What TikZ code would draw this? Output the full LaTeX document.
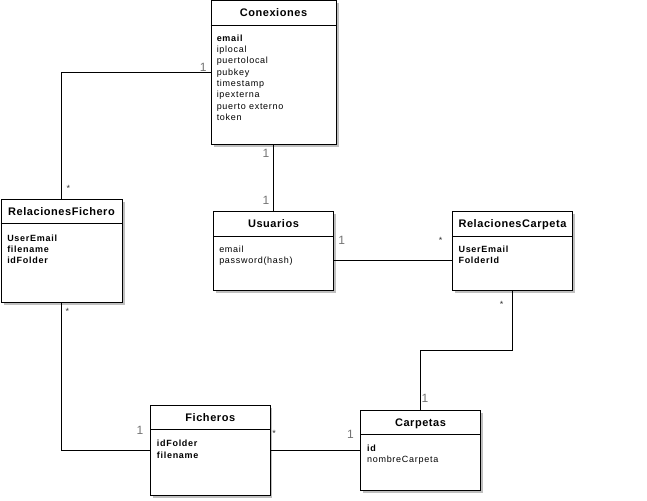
\documentclass[tikz,border=0pt]{standalone}
\usepackage{fontspec}
\setmainfont{Liberation Sans}
\newfontfamily\attrfont[LetterSpace=8]{Liberation Sans}
\newfontfamily\headfont[LetterSpace=5]{Liberation Sans}
\usepackage{tikz}
\usetikzlibrary{shadows}

\tikzset{
  umlbox/.style={draw, fill=white, line width=0.9pt, inner sep=0pt,
    drop shadow={shadow xshift=2.5pt, shadow yshift=-2.5pt, opacity=0.25, fill=black}},
  umlhead/.style={anchor=base, inner sep=0pt, font=\headfont\bfseries\fontsize{11}{13}\selectfont},
  umlattr/.style={anchor=north west, inner sep=0pt, align=left, font=\attrfont\fontsize{9}{11.3}\selectfont},
  mult/.style={anchor=base, inner sep=0pt, text=black!55, font=\fontsize{12}{14}\selectfont},
  many/.style={anchor=base, inner sep=0pt, text=black!80, font=\fontsize{9}{11}\selectfont},
  assoc/.style={line width=0.9pt}
}

\begin{document}
\begin{tikzpicture}[x=1pt,y=-1pt]
   \useasboundingbox (0,0) rectangle (647,500);

   % Conexiones
   \node[umlbox, minimum width=125pt, minimum height=143.8pt] (conexiones) at (273.5,72.4) {};
   \draw[assoc] ([yshift=-25pt]conexiones.north west) -- ([yshift=-25pt]conexiones.north east);
   \node[umlhead] (conexionesT) at ([yshift=-16.7pt]conexiones.north) {Conexiones};
   \node[umlattr] (conexionesA) at ([xshift=6pt,yshift=-33pt]conexiones.north west)
     {\rule{0pt}{8pt}\textbf{email}\\iplocal\\puertolocal\\pubkey\\timestamp\\ipexterna\\puerto externo\\token};

   % RelacionesFichero
   \node[umlbox, minimum width=121pt, minimum height=102.7pt] (relFichero) at (61.5,250.7) {};
   \draw[assoc] ([yshift=-25pt]relFichero.north west) -- ([yshift=-25pt]relFichero.north east);
   \node[umlhead] (relFicheroT) at ([yshift=-16.7pt]relFichero.north) {RelacionesFichero};
   \node[umlattr] (relFicheroA) at ([xshift=6.5pt,yshift=-34pt]relFichero.north west)
     {\rule{0pt}{8pt}\textbf{UserEmail}\\\textbf{filename}\\\textbf{idFolder}};

   % Usuarios
   \node[umlbox, minimum width=120pt, minimum height=79pt] (usuarios) at (273.5,251.2) {};
   \draw[assoc] ([yshift=-25pt]usuarios.north west) -- ([yshift=-25pt]usuarios.north east);
   \node[umlhead] (usuariosT) at ([yshift=-16.7pt]usuarios.north) {Usuarios};
   \node[umlattr] (usuariosA) at ([xshift=6pt,yshift=-33pt]usuarios.north west)
     {\rule{0pt}{8pt}email\\password(hash)};

   % RelacionesCarpeta
   \node[umlbox, minimum width=120.4pt, minimum height=79pt] (relCarpeta) at (512.5,251.2) {};
   \draw[assoc] ([yshift=-25pt]relCarpeta.north west) -- ([yshift=-25pt]relCarpeta.north east);
   \node[umlhead] (relCarpetaT) at ([yshift=-16.7pt]relCarpeta.north) {RelacionesCarpeta};
   \node[umlattr] (relCarpetaA) at ([xshift=6.5pt,yshift=-33pt]relCarpeta.north west)
     {\rule{0pt}{8pt}\textbf{UserEmail}\\\textbf{FolderId}};

   % Ficheros
   \node[umlbox, minimum width=119.3pt, minimum height=90pt] (ficheros) at (210.3,450.5) {};
   \draw[assoc] ([yshift=-24.5pt]ficheros.north west) -- ([yshift=-24.5pt]ficheros.north east);
   \node[umlhead] (ficherosT) at ([yshift=-16.5pt]ficheros.north) {Ficheros};
   \node[umlattr] (ficherosA) at ([xshift=6.5pt,yshift=-33.5pt]ficheros.north west)
     {\rule{0pt}{8pt}\textbf{idFolder}\\\textbf{filename}};

   % Carpetas
   \node[umlbox, minimum width=119.3pt, minimum height=79.3pt] (carpetas) at (420.5,450.5) {};
   \draw[assoc] ([yshift=-24.5pt]carpetas.north west) -- ([yshift=-24.5pt]carpetas.north east);
   \node[umlhead] (carpetasT) at ([yshift=-16.5pt]carpetas.north) {Carpetas};
   \node[umlattr] (carpetasA) at ([xshift=6.5pt,yshift=-33pt]carpetas.north west)
     {\rule{0pt}{8pt}\textbf{id}\\nombreCarpeta};

   % associations
   \draw[assoc] (conexiones.west) -| (relFichero.north);
   \draw[assoc] (conexiones.south) -- (usuarios.north);
   \draw[assoc] ([yshift=-9.3pt]usuarios.east) -- ([yshift=-9.3pt]relCarpeta.west);
   \coordinate (carpetaBend) at (512.5,350.5);
   \draw[assoc] (relCarpeta.south) -- (carpetaBend) -| (carpetas.north);
   \draw[assoc] (relFichero.south) |- (ficheros.west);
   \draw[assoc] (ficheros.east) -- (carpetas.west);

   % multiplicities
   \node[mult] (mConW) at (203.3,71.8) {1};
   \node[many] (mRfN) at (68.3,191.2) {*};
   \node[mult] (mConS) at (266,157.6) {1};
   \node[mult] (mUsuN) at (266,204.3) {1};
   \node[mult] (mUsuE) at (341.7,244.3) {1};
   \node[many] (mRcW) at (440.7,243.2) {*};
   \node[many] (mRcS) at (501.7,307) {*};
   \node[mult] (mCarN) at (425,402.6) {1};
   \node[mult] (mCarW) at (350.5,438.3) {1};
   \node[many] (mFicE) at (274,436) {*};
   \node[mult] (mFicW) at (140,434.3) {1};
   \node[many] (mRfS) at (67.3,314.2) {*};
\end{tikzpicture}
\end{document}
